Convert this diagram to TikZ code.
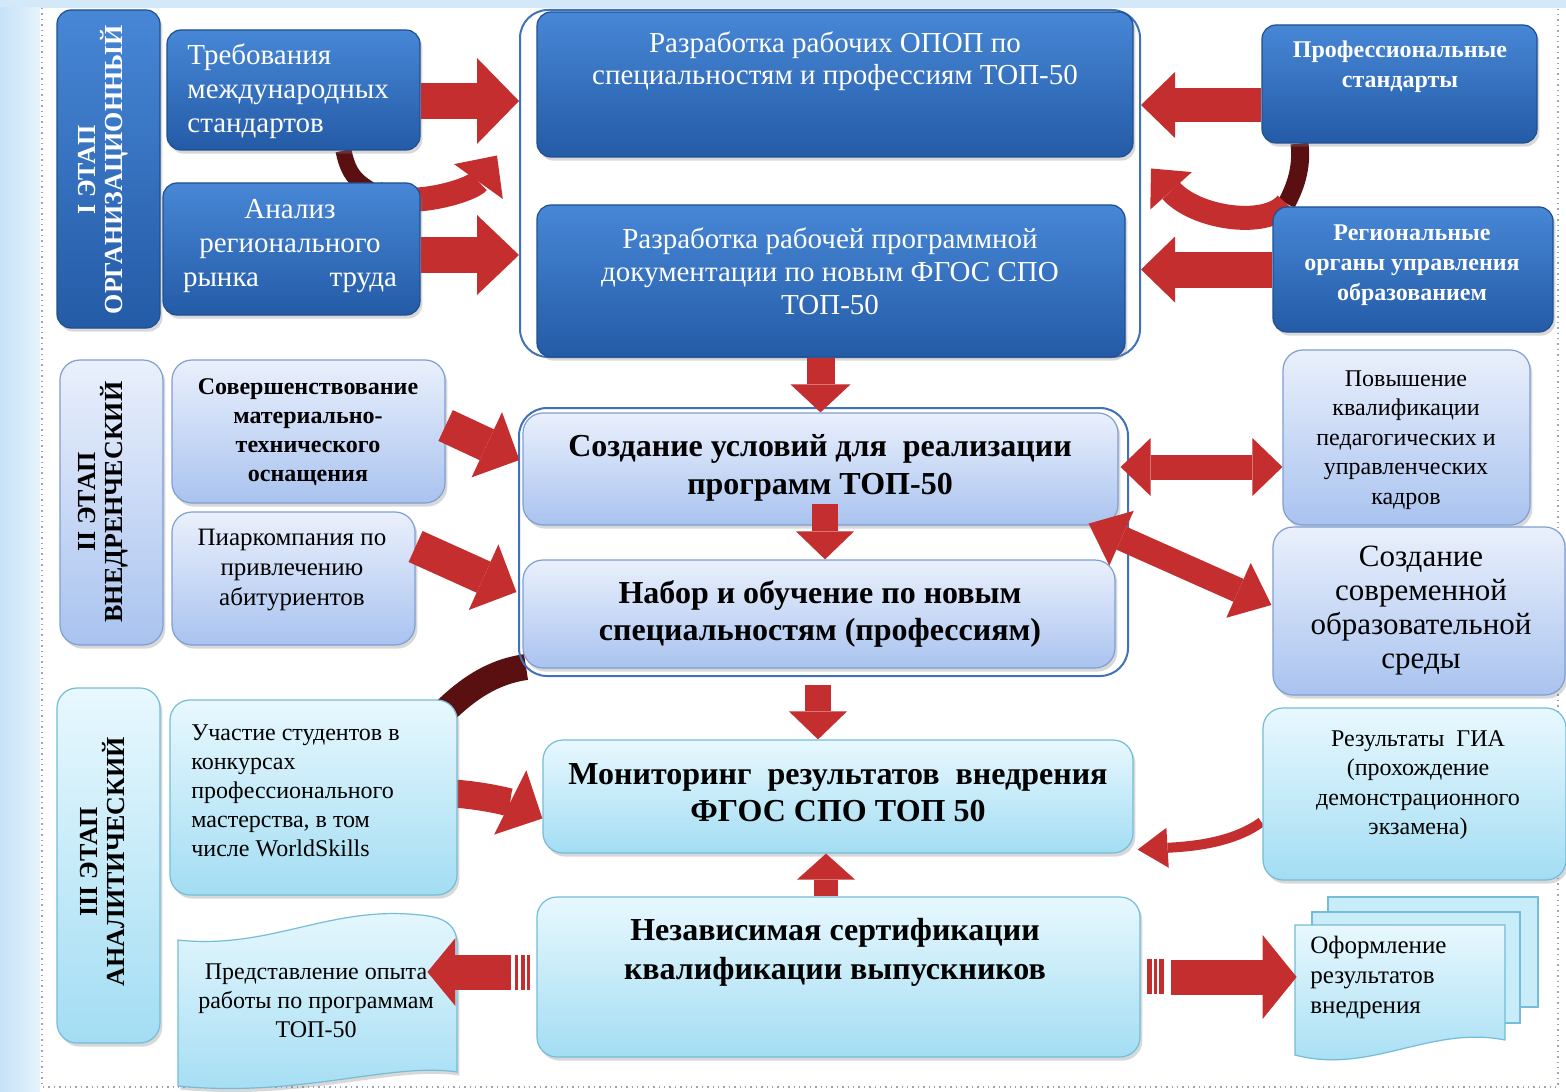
\documentclass[tikz,border=0pt]{standalone}
\usepackage{fontspec}
\setmainfont{Liberation Serif}
\usetikzlibrary{arrows.meta,calc,shadows}
\definecolor{bgblue}{HTML}{D3E8F8}
\definecolor{bgL}{HTML}{C6E2F7}
\definecolor{bgR}{HTML}{E6F3FC}
\definecolor{dkA}{HTML}{4787D6}
\definecolor{dkB}{HTML}{245BA7}
\definecolor{dkE}{HTML}{1F4F90}
\definecolor{ltA}{HTML}{EAF0FC}
\definecolor{ltB}{HTML}{A9C3EF}
\definecolor{ltE}{HTML}{7F9ED2}
\definecolor{cyA}{HTML}{E8F8FE}
\definecolor{cyB}{HTML}{A3DDF3}
\definecolor{cyE}{HTML}{74BCD8}
\definecolor{arrred}{HTML}{C42E2E}
\definecolor{maroonc}{HTML}{5A1010}
\definecolor{grpline}{HTML}{3F72B8}
\definecolor{dotgray}{HTML}{9AA3B5}
\pgfdeclarelayer{bg}
\pgfsetlayers{bg,main}
\newcommand\putbox[6]{%
  \pgfmathsetmacro\boxw{(#5-#3)*0.5}%
  \pgfmathsetmacro\boxh{(#6-#4)*0.5}%
  \node[#1, minimum width=\boxw pt, minimum height=\boxh pt] (#2) at ({(#3+#5)/2},{(#4+#6)/2}) {};}
\tikzset{
  shd/.style={drop shadow={shadow xshift=1.2pt, shadow yshift=-1.8pt, opacity=0.3}},
  dkbox/.style={rectangle, rounded corners=7pt, top color=dkA, bottom color=dkB, draw=dkE, line width=0.6pt, shd, inner sep=0pt},
  ltbox/.style={rectangle, rounded corners=10pt, top color=ltA, bottom color=ltB, draw=ltE, line width=0.6pt, shd, inner sep=0pt},
  cybox/.style={rectangle, rounded corners=10pt, top color=cyA, bottom color=cyB, draw=cyE, line width=0.6pt, shd, inner sep=0pt},
  grpbox/.style={rectangle, rounded corners=14pt, draw=grpline, line width=1pt, inner sep=0pt},
  holder/.style={rectangle, inner sep=0pt},
  wtxt/.style={text=white, align=center, inner sep=0pt},
  ktxt/.style={text=black, align=center, inner sep=0pt},
  redline/.style={draw=arrred},
}
\begin{document}
\begin{tikzpicture}[x=0.5pt,y=-0.5pt]
\useasboundingbox (0,0) rectangle (1566,1091);
\begin{pgfonlayer}{bg}
  \fill[bgblue] (0,0) rectangle (1566,1091);
  \shade[left color=bgL, right color=bgR] (0,8) rectangle (40,1091);
  \fill[white] (40,8) rectangle (1566,1091);
  \draw[dotgray, dotted, line width=0.7pt] (42,8) -- (42,1087) -- (1558,1087) -- (1558,8);
\end{pgfonlayer}

% ---------- boxes ----------
\putbox{dkbox}{S1}{57}{10}{160}{328}
\putbox{ltbox}{S2}{60}{360}{163}{645}
\putbox{cybox}{S3}{57}{688}{160}{1043}
\putbox{dkbox}{L1}{167}{30}{420}{150}
\putbox{dkbox}{L2}{163}{183}{420}{315}
\putbox{ltbox}{L3}{172}{360}{445}{503}
\putbox{ltbox}{L4}{172}{512}{415}{645}
\putbox{cybox}{L5}{170}{700}{457}{895}
\putbox{holder}{L6}{178}{918}{457}{1088}
\putbox{grpbox}{G1}{520}{10}{1140}{357}
\putbox{dkbox}{C1}{537}{12}{1133}{157}
\putbox{dkbox}{C2}{537}{205}{1125}{357}
\putbox{grpbox}{G2}{519}{408}{1128}{676}
\putbox{ltbox}{C3}{523}{413}{1118}{525}
\putbox{ltbox}{C4}{523}{560}{1115}{668}
\putbox{cybox}{C5}{543}{740}{1133}{853}
\putbox{cybox}{C6}{537}{897}{1140}{1057}
\putbox{dkbox}{R1}{1262}{25}{1537}{143}
\putbox{dkbox}{R2}{1273}{207}{1553}{332}
\putbox{ltbox}{R3}{1283}{350}{1530}{525}
\putbox{ltbox}{R4}{1273}{527}{1565}{695}
\putbox{cybox}{R5}{1263}{708}{1566}{880}
\putbox{holder}{R6}{1295}{897}{1538}{1065}

% wave shape (Представление опыта)
\draw[cyE, line width=0.6pt, top color=cyA, bottom color=cyB, shd] (178,940) .. controls (270,950) and (330,905) .. (420,915) .. controls (445,917) and (457,925) .. (457,945) -- (457,1072) .. controls (390,1062) and (300,1098) .. (178,1086) -- cycle;
% multi-document
\draw[cyE, line width=0.6pt, fill=cyA!55!cyB] (1328,897) rectangle (1538,1007);
\draw[cyE, line width=0.6pt, fill=cyA!55!cyB] (1312,912) rectangle (1520,1023);
\draw[cyE, line width=0.6pt, top color=cyA, bottom color=cyB] (1295,925) -- (1505,925) -- (1505,1040) .. controls (1430,1025) and (1370,1075) .. (1295,1055) -- cycle;

% ---------- texts ----------
\node[wtxt, rotate=90, font=\bfseries\fontsize{13}{13.5}\selectfont] (S1t) at (103,170) {I ЭТАП\\ОРГАНИЗАЦИОННЫЙ};
\node[ktxt, rotate=90, font=\bfseries\fontsize{13}{13.5}\selectfont] (S2t) at (103,502) {II ЭТАП\\ВНЕДРЕНЧЕСКИЙ};
\node[ktxt, rotate=90, font=\bfseries\fontsize{13}{13.5}\selectfont] (S3t) at (103,862) {III ЭТАП\\АНАЛИТИЧЕСКИЙ};

\node[wtxt, align=left, anchor=west, font=\fontsize{14.5}{17}\selectfont] (L1t) at (187,91) {Требования\\международных\\стандартов};
\node[wtxt, font=\fontsize{14.5}{17}\selectfont] (L2t) at (290,246) {Анализ\\регионального\\\makebox[107pt]{рынка\hfill труда}};
\node[ktxt, font=\bfseries\fontsize{12}{14.5}\selectfont] (L3t) at (308,432) {Совершенствование\\материально-\\технического\\оснащения};
\node[ktxt, font=\fontsize{12.5}{15}\selectfont] (L4t) at (292,570) {Пиаркомпания по\\привлечению\\абитуриентов};
\node[ktxt, align=left, anchor=west, font=\fontsize{12}{14.5}\selectfont] (L5t) at (191,791) {Участие студентов в\\конкурсах\\профессионального\\мастерства, в том\\числе WorldSkills};
\node[ktxt, font=\fontsize{12}{14.5}\selectfont] (L6t) at (316,1001) {Представление опыта\\работы по программам\\ТОП-50};

\node[wtxt, font=\fontsize{14.5}{16}\selectfont] (C1t) at (835,61) {Разработка рабочих ОПОП по\\специальностям и профессиям ТОП-50};
\node[wtxt, font=\fontsize{14.5}{16.5}\selectfont] (C2t) at (830,271) {Разработка рабочей программной\\документации по новым ФГОС СПО\\ТОП-50};
\node[ktxt, font=\bfseries\fontsize{16}{19}\selectfont] (C3t) at (820,468) {Создание условий для\ \ реализации\\программ ТОП-50};
\node[ktxt, font=\bfseries\fontsize{16}{18.5}\selectfont] (C4t) at (820,614) {Набор и обучение по новым\\специальностям (профессиям)};
\node[ktxt, font=\bfseries\fontsize{16}{18.5}\selectfont] (C5t) at (838,793) {Мониторинг\ \ результатов\ \ внедрения\\ФГОС СПО ТОП 50};
\node[ktxt, font=\bfseries\fontsize{16}{19.5}\selectfont] (C6t) at (835,952) {Независимая сертификации\\квалификации выпускников};

\node[wtxt, font=\bfseries\fontsize{12}{15}\selectfont] (R1t) at (1400,67) {Профессиональные\\стандарты};
\node[wtxt, font=\bfseries\fontsize{12}{15}\selectfont] (R2t) at (1412,265) {Региональные\\органы управления\\образованием};
\node[ktxt, font=\fontsize{12}{14.75}\selectfont] (R3t) at (1406,440) {Повышение\\квалификации\\педагогических и\\управленческих\\кадров};
\node[ktxt, font=\fontsize{15.5}{17}\selectfont] (R4t) at (1421,611) {Создание\\современной\\образовательной\\среды};
\node[ktxt, font=\fontsize{12}{14.75}\selectfont] (R5t) at (1418,785) {Результаты\ \ ГИА\\(прохождение\\демонстрационного\\экзамена)};
\node[ktxt, align=left, anchor=west, font=\fontsize{12.5}{15}\selectfont] (R6t) at (1310,977) {Оформление\\результатов\\внедрения};

% ---------- curved arrows (behind boxes) ----------
\coordinate (caS) at ($(L1.south)+(50,0)$);
\coordinate (caM) at ($(caS)+(32,42)$);
\coordinate (caE) at ($(G1.west)+(-22,-28)$);
\coordinate (cbS) at ($(R1.south)+(-100,0)$);
\coordinate (cbM) at ($(cbS)+(-13,60)$);
\coordinate (cbE) at ($(G1.east)+(10,-15)$);
\coordinate (ccS) at ($(G2.south west)+(8,-10)$);
\coordinate (ccM) at ($(L5.north east)+(-17,16)$);
\coordinate (ccR) at ($(L5.east)+(-30,-5)$);
\coordinate (ccE) at ($(C5.west)+(0,22)$);
\coordinate (cdS) at ($(R5.west)+(-1,28)$);
\coordinate (cdE) at ($(C5.south east)+(4,-4)$);
\begin{pgfonlayer}{bg}
  \draw[maroonc, line width=8pt] (caS) .. controls +(5,25) and +(-18,-10) .. (caM);
  \draw[redline, line width=12pt, -{Triangle[length=16pt,width=30pt,line width=0pt]}] (caM) .. controls +(30,18) and +(-25,35) .. (caE);
  \draw[maroonc, line width=9pt] (cbS) .. controls +(3,25) and +(8,-15) .. (cbM);
  \draw[redline, line width=12pt, -{Triangle[length=15pt,width=28pt,line width=0pt]}] (cbM) .. controls +(-20,25) and +(45,50) .. (cbE);
  \draw[maroonc, line width=13pt] (ccS) .. controls +(-35,5) and +(25,-25) .. (ccM);
  \draw[redline, line width=14pt, -{Triangle[length=18pt,width=36pt,line width=0pt]}] (ccR) .. controls +(50,0) and +(-30,-15) .. (ccE);
  \draw[redline, line width=5pt, -{Triangle[length=15pt,width=20pt,line width=0pt]}] (cdS) .. controls +(-30,22) and +(50,-3) .. (cdE);
\end{pgfonlayer}

% ---------- straight block arrows ----------
\coordinate (a1s) at ($(L1.east)+(0,11)$);
\coordinate (a1e) at (G1.west |- a1s);
\draw[redline, line width=18pt, -{Triangle[length=21pt,width=43pt,line width=0pt]}] (a1s) -- (a1e);
\coordinate (a2s) at ($(L2.east)+(0,6)$);
\coordinate (a2e) at (G1.west |- a2s);
\draw[redline, line width=18pt, -{Triangle[length=21pt,width=40pt,line width=0pt]}] (a2s) -- (a2e);
\coordinate (a3s) at ($(R1.west)+(0,21)$);
\coordinate (a3e) at (G1.east |- a3s);
\draw[redline, line width=17pt, -{Triangle[length=17pt,width=33pt,line width=0pt]}] (a3s) -- (a3e);
\coordinate (a4s) at (R2.west);
\coordinate (a4e) at (G1.east |- a4s);
\draw[redline, line width=18pt, -{Triangle[length=17pt,width=33pt,line width=0pt]}] (a4s) -- (a4e);

\coordinate (d1e) at (C3.north);
\coordinate (d1s) at (d1e |- C2.south);
\draw[redline, line width=14pt, -{Triangle[length=14pt,width=30pt,line width=0pt]}] (d1s) -- (d1e);
\coordinate (d2e) at ($(C4.north)+(6,0)$);
\coordinate (d2s) at ($(d2e)+(0,-55)$);
\draw[redline, line width=13pt, -{Triangle[length=14pt,width=29pt,line width=0pt]}] (d2s) -- (d2e);
\coordinate (d3e) at ($(C5.north)+(-20,0)$);
\coordinate (d3x) at (d3e |- G2.south);
\coordinate (d3s) at ($(d3x)+(0,8)$);
\draw[redline, line width=13pt, -{Triangle[length=14pt,width=29pt,line width=0pt]}] (d3s) -- (d3e);
\coordinate (u1e) at ($(C5.south)+(-12,0)$);
\coordinate (u1s) at (u1e |- C6.north);
\draw[redline, line width=12pt, -{Triangle[length=13pt,width=29pt,line width=0pt]}] (u1s) -- (u1e);

\coordinate (g1s) at ($(L3.east)+(0,-6)$);
\coordinate (g1e) at ($(C3.west)+(-3,-9)$);
\draw[redline, line width=17pt, -{Triangle[length=18pt,width=36pt,line width=0pt]}] (g1s) -- (g1e);
\coordinate (g2s) at ($(L4.east)+(0,-32)$);
\coordinate (g2e) at ($(C4.west)+(-6,-22)$);
\draw[redline, line width=17pt, -{Triangle[length=18pt,width=36pt,line width=0pt]}] (g2s) -- (g2e);

\coordinate (b1s) at ($(C3.east)+(2,-2)$);
\coordinate (b1e) at (R3.west |- b1s);
\draw[redline, line width=12.5pt, {Triangle[length=15pt,width=29pt,line width=0pt]}-{Triangle[length=15pt,width=29pt,line width=0pt]}] (b1s) -- (b1e);
\coordinate (b2s) at ($(C3.south east)+(-30,-2)$);
\coordinate (b2e) at ($(R4.west)+(-1,-6)$);
\draw[redline, line width=12.5pt, {Triangle[length=18pt,width=30pt,line width=0pt]}-{Triangle[length=18pt,width=30pt,line width=0pt]}] (b2s) -- (b2e);

% striped arrows from Независимая сертификация
\coordinate (ls) at ($(C6.west)+(-25,-5)$);
\coordinate (le) at ($(L6.east)+(-30,-31)$);
\draw[redline, line width=17.5pt, -{Triangle[length=14pt,width=34pt,line width=0pt]}] (ls) -- (le);
\fill[arrred] ($(C6.west)+(-21,-22)$) rectangle ($(C6.west)+(-18,13)$);
\fill[arrred] ($(C6.west)+(-15,-22)$) rectangle ($(C6.west)+(-11,13)$);
\fill[arrred] ($(C6.west)+(-9,-22)$) rectangle ($(C6.west)+(-6,13)$);
\coordinate (rs) at ($(C6.east)+(30,0)$);
\coordinate (re) at ($(R6.west)+(2,-4)$);
\draw[redline, line width=17.5pt, -{Triangle[length=17pt,width=42pt,line width=0pt]}] (rs) -- (re);
\fill[arrred] ($(C6.east)+(6,-18)$) rectangle ($(C6.east)+(11,17)$);
\fill[arrred] ($(C6.east)+(13,-18)$) rectangle ($(C6.east)+(16,17)$);
\fill[arrred] ($(C6.east)+(18,-18)$) rectangle ($(C6.east)+(23,17)$);
\end{tikzpicture}
\end{document}
